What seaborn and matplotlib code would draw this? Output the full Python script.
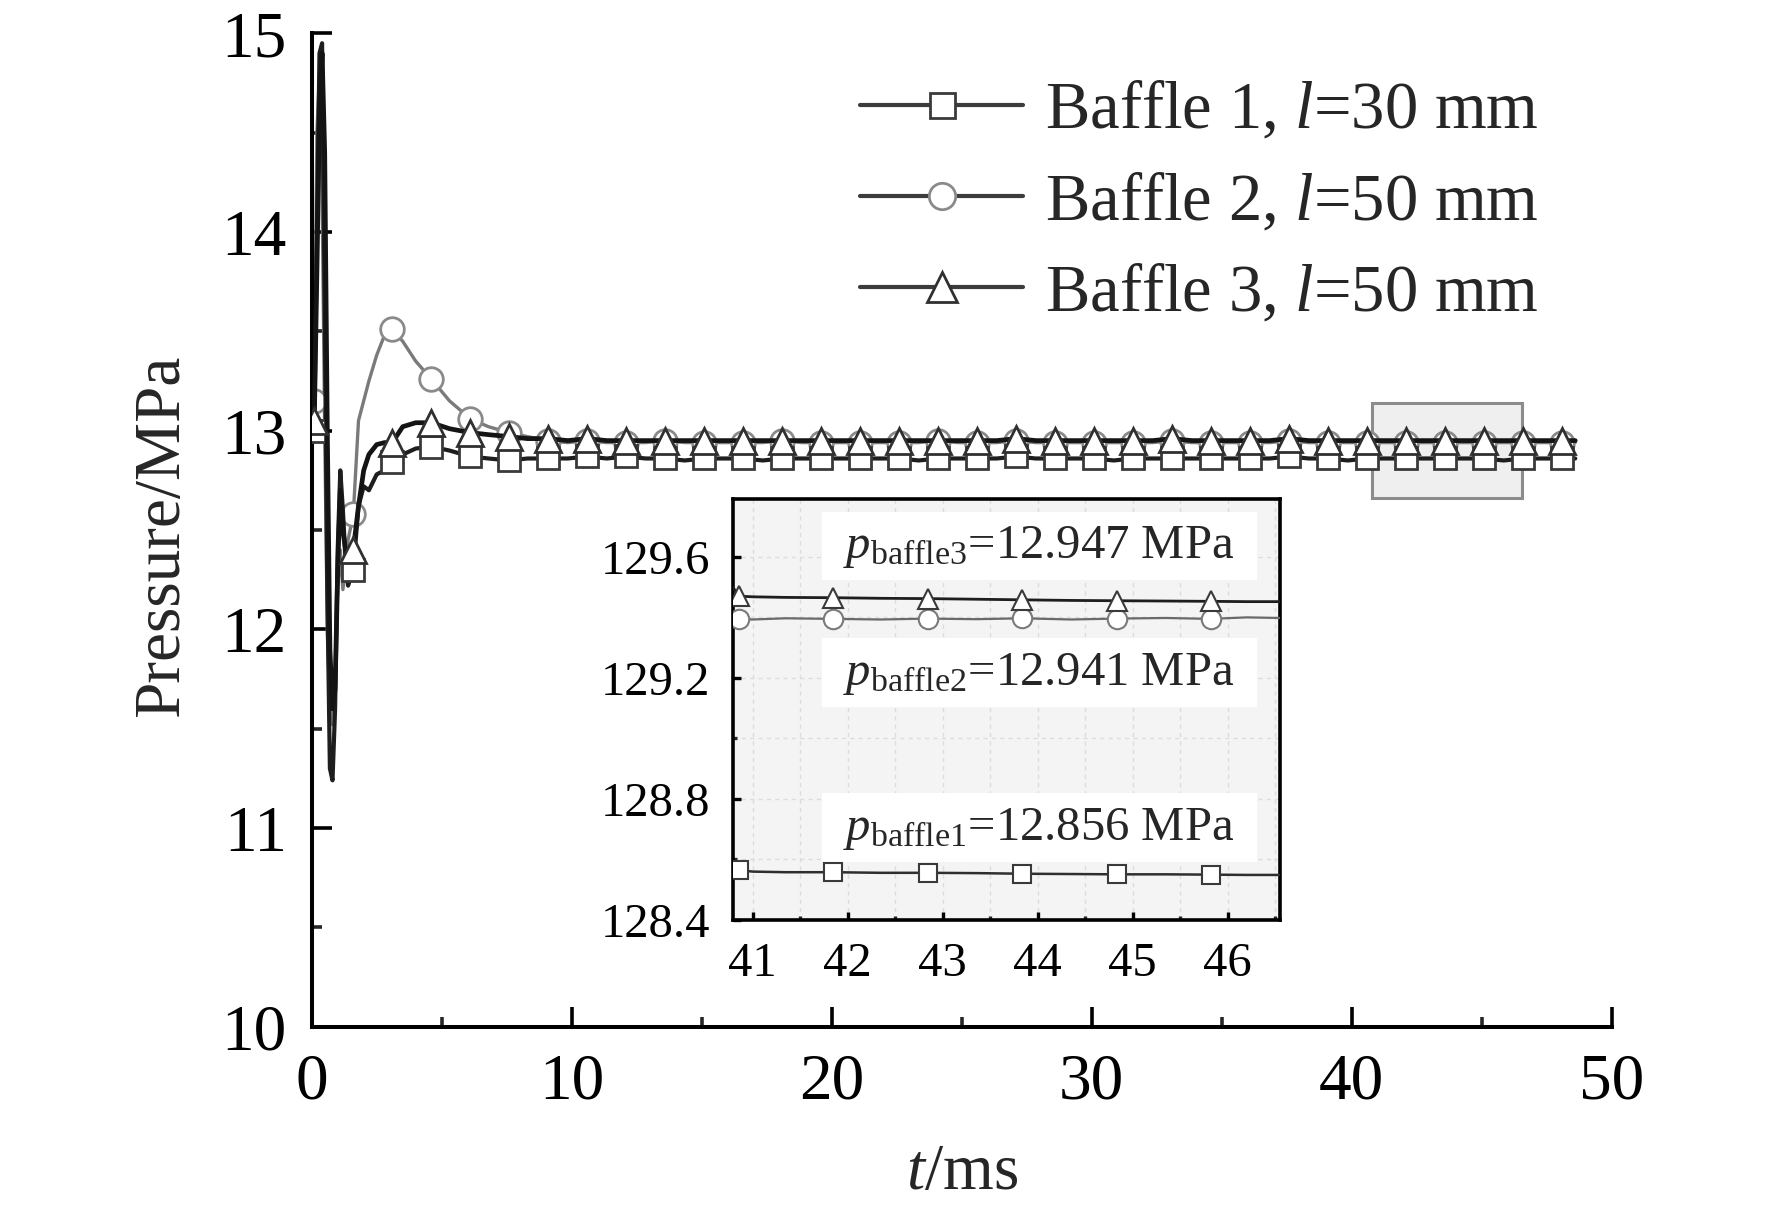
import numpy as np
import pandas as pd
import matplotlib
matplotlib.use("Agg")
import matplotlib.pyplot as plt
from matplotlib.patches import Rectangle
from matplotlib.ticker import MultipleLocator
from matplotlib.lines import Line2D
import seaborn as sns

# ---------------- data ----------------
t_head = [0.0, 0.1, 0.2, 0.3, 0.4, 0.5, 0.6, 0.7, 0.8, 0.9, 1.0, 1.1, 1.2, 1.3, 1.4,
          1.6, 1.8, 2.0, 2.2, 2.5, 2.8, 3.1, 3.5, 4.0, 4.6, 5.3, 6.1, 6.8, 7.6, 8.3, 9.1]
t_tail = [9.85, 10.6, 11.35, 12.1, 12.85, 13.6, 14.35, 15.1, 15.85, 16.6, 17.35, 18.1,
          18.85, 19.6, 20.35, 21.1, 21.85, 22.6, 23.35, 24.1, 24.85, 25.6, 26.35, 27.1,
          27.85, 28.6, 29.35, 30.1, 30.85, 31.6, 32.35, 33.1, 33.85, 34.6, 35.35, 36.1,
          36.85, 37.6, 38.35, 39.1, 39.85, 40.6, 41.35, 42.1, 42.85, 43.6, 44.35, 45.1,
          45.85, 46.6, 47.35, 48.1, 48.6]

b1_head = [13.00, 13.00, 14.00, 14.90, 14.95, 13.60, 12.20, 11.30, 11.24, 11.60, 12.40,
           12.80, 12.60, 12.35, 12.22, 12.30, 12.62, 12.72, 12.70, 12.78, 12.80, 12.84,
           12.88, 12.91, 12.92, 12.90, 12.87, 12.86, 12.85, 12.86, 12.86]
b1_tail = [12.86, 12.87, 12.86, 12.87, 12.86, 12.86, 12.85, 12.86, 12.86, 12.86, 12.85,
           12.86, 12.86, 12.86, 12.86, 12.86, 12.86, 12.86, 12.85, 12.86, 12.86, 12.86,
           12.86, 12.87, 12.86, 12.86, 12.86, 12.86, 12.85, 12.86, 12.86, 12.86, 12.86,
           12.86, 12.86, 12.86, 12.86, 12.87, 12.86, 12.86, 12.85, 12.86, 12.86, 12.86,
           12.86, 12.86, 12.86, 12.86, 12.85, 12.86, 12.86, 12.86, 12.86]

b2_head = [13.20, 13.15, 14.50, 14.80, 14.20, 13.00, 12.00, 11.60, 11.52, 11.70, 12.20,
           12.40, 12.20, 12.30, 12.45, 12.58, 13.05, 13.15, 13.25, 13.38, 13.48, 13.51,
           13.45, 13.35, 13.26, 13.15, 13.06, 13.02, 12.99, 12.97, 12.95]
b2_tail = [12.94, 12.95, 12.94, 12.94, 12.94, 12.95, 12.94, 12.94, 12.94, 12.94, 12.94,
           12.95, 12.94, 12.94, 12.94, 12.94, 12.94, 12.94, 12.94, 12.95, 12.94, 12.94,
           12.94, 12.95, 12.94, 12.94, 12.94, 12.94, 12.94, 12.94, 12.94, 12.95, 12.94,
           12.94, 12.94, 12.94, 12.94, 12.95, 12.94, 12.94, 12.94, 12.94, 12.94, 12.94,
           12.94, 12.94, 12.94, 12.94, 12.94, 12.94, 12.94, 12.94, 12.94]

b3_head = [13.10, 13.05, 13.80, 14.60, 14.90, 14.40, 13.00, 11.90, 11.60, 11.70, 12.30,
           12.70, 12.50, 12.40, 12.38, 12.40, 12.62, 12.80, 12.88, 12.93, 12.94, 12.94,
           13.02, 13.04, 13.04, 13.01, 12.99, 12.98, 12.97, 12.96, 12.96]
b3_tail = [12.95, 12.96, 12.95, 12.95, 12.95, 12.95, 12.95, 12.95, 12.95, 12.95, 12.95,
           12.95, 12.95, 12.95, 12.95, 12.95, 12.95, 12.95, 12.95, 12.95, 12.95, 12.95,
           12.95, 12.96, 12.95, 12.95, 12.95, 12.95, 12.95, 12.95, 12.95, 12.96, 12.95,
           12.95, 12.95, 12.95, 12.95, 12.96, 12.95, 12.95, 12.95, 12.95, 12.95, 12.95,
           12.95, 12.95, 12.95, 12.95, 12.95, 12.95, 12.95, 12.95, 12.95]

# inset (zoomed steady state)
in_t = [40.79, 40.86, 41.0, 41.35, 41.85, 42.35, 42.85, 43.35, 43.84, 44.35, 44.83,
        45.35, 45.82, 46.2, 46.55]
in_b1 = [128.575, 128.565, 128.560, 128.558, 128.558, 128.556, 128.556, 128.555,
         128.553, 128.552, 128.551, 128.551, 128.550, 128.549, 128.549]
in_b2 = [129.400, 129.395, 129.393, 129.397, 129.395, 129.393, 129.396, 129.394,
         129.397, 129.393, 129.396, 129.398, 129.395, 129.400, 129.398]
in_b3 = [129.500, 129.470, 129.468, 129.466, 129.465, 129.463, 129.462, 129.460,
         129.458, 129.456, 129.455, 129.454, 129.453, 129.452, 129.452]
in_marker_t = [40.86, 41.85, 42.85, 43.84, 44.83, 45.82]

labels = ["Baffle 1, $l$=30 mm", "Baffle 2, $l$=50 mm", "Baffle 3, $l$=50 mm"]
annot = ["$p_{\\mathrm{baffle3}}$=12.947 MPa",
         "$p_{\\mathrm{baffle2}}$=12.941 MPa",
         "$p_{\\mathrm{baffle1}}$=12.856 MPa"]
zoom_y = (12.66, 13.14)

# ---------------- style ----------------
sns.set_style("ticks")
plt.rcParams["font.family"] = ["Liberation Serif", "DejaVu Serif"]
plt.rcParams["mathtext.fontset"] = "custom"
plt.rcParams["mathtext.rm"] = "Liberation Serif"
plt.rcParams["mathtext.it"] = "Liberation Serif:italic"
plt.rcParams["mathtext.bf"] = "Liberation Serif:bold"

t_all = t_head + t_tail
df = pd.DataFrame({"t": t_all, "b1": b1_head + b1_tail,
                   "b2": b2_head + b2_tail, "b3": b3_head + b3_tail})
mk_idx = [i for i, v in enumerate(t_all)
          if abs((v - 0.1) / 1.5 - round((v - 0.1) / 1.5)) < 1e-6]

fig = plt.figure(figsize=(17.72, 12.12), dpi=100)
ax = fig.add_axes([0.1759, 0.1529, 0.7336, 0.8196])

styles = {
    "b1": dict(color="#1e1e1e", lw=3.0, marker="s", ms=16, mfc="white", mec="#3a3a3a", mew=2.0),
    "b2": dict(color="#7a7a7a", lw=2.4, marker="o", ms=17, mfc="white", mec="#8a8a8a", mew=2.0),
    "b3": dict(color="#141414", lw=3.4, marker="^", ms=19, mfc="white", mec="#303030", mew=2.0),
}

# zoom-region rectangle (behind curves)
ax.add_patch(Rectangle((in_t[0], zoom_y[0]), in_t[-1] - in_t[0], zoom_y[1] - zoom_y[0],
                       facecolor="#efefef", edgecolor="#8c8c8c", lw=2.2, zorder=1))

for key, z in (("b2", 2), ("b1", 3), ("b3", 4)):
    st = styles[key]
    sns.lineplot(data=df, x="t", y=key, ax=ax, estimator=None, sort=False,
                 color=st["color"], lw=st["lw"], marker=st["marker"], markersize=st["ms"],
                 markerfacecolor=st["mfc"], markeredgecolor=st["mec"],
                 markeredgewidth=st["mew"], markevery=mk_idx, zorder=z)

ax.set_xlim(0, 50)
ax.set_ylim(10, 15)
ax.xaxis.set_major_locator(MultipleLocator(10))
ax.xaxis.set_minor_locator(MultipleLocator(5))
ax.yaxis.set_major_locator(MultipleLocator(1))
ax.yaxis.set_minor_locator(MultipleLocator(0.5))
for s in ("top", "right"):
    ax.spines[s].set_visible(False)
for s in ("left", "bottom"):
    ax.spines[s].set_linewidth(2.9)
    ax.spines[s].set_color("black")
ax.tick_params(which="major", direction="in", length=14.5, width=2.6, labelsize=47,
               colors="black")
ax.tick_params(which="minor", direction="in", length=7.5, width=2.6)
ax.tick_params(axis="y", which="major", pad=18)
ax.tick_params(axis="x", which="major", pad=19)
ax.set_xlabel("$t$/ms", fontsize=47)
ax.set_ylabel("Pressure/MPa", fontsize=47)
ax.xaxis.set_label_coords(0.50, -0.118)
ax.yaxis.set_label_coords(-0.092, 0.494)

handles = []
for key in ("b1", "b2", "b3"):
    st = styles[key]
    handles.append(Line2D([], [], color="#3c3c3c", lw=3.0, marker=st["marker"],
                          markersize=st["ms"] + 2, markerfacecolor="white",
                          markeredgecolor=st["mec"], markeredgewidth=2.0))
fig.legend(handles, labels, loc="upper left", bbox_to_anchor=(0.4853, 0.934),
           frameon=False, fontsize=48, handlelength=2.45, handletextpad=0.32,
           labelspacing=0.44, borderpad=0, borderaxespad=0)

# ---------------- inset ----------------
axin = fig.add_axes([0.4135, 0.2409, 0.3088, 0.3471])
axin.set_facecolor("#f4f4f4")
din = pd.DataFrame({"t": in_t, "b1": in_b1, "b2": in_b2, "b3": in_b3})
in_mk = [i for i, v in enumerate(in_t) if v in in_marker_t]
in_styles = {
    "b1": dict(color="#2e2e2e", lw=1.8, marker="s", ms=13, mec="#3a3a3a"),
    "b2": dict(color="#6a6a6a", lw=1.6, marker="o", ms=14, mec="#7a7a7a"),
    "b3": dict(color="#1e1e1e", lw=2.0, marker="^", ms=15, mec="#3a3a3a"),
}
for key in ("b1", "b2", "b3"):
    st = in_styles[key]
    sns.lineplot(data=din, x="t", y=key, ax=axin, estimator=None, sort=False,
                 color=st["color"], lw=st["lw"], marker=st["marker"], markersize=st["ms"],
                 markerfacecolor="white", markeredgecolor=st["mec"], markeredgewidth=1.5,
                 markevery=in_mk, zorder=4)
axin.set_xlim(in_t[0], in_t[-1])
axin.set_ylim(128.4, 129.79)
axin.xaxis.set_major_locator(MultipleLocator(1))
axin.xaxis.set_minor_locator(MultipleLocator(0.5))
axin.yaxis.set_major_locator(MultipleLocator(0.4))
axin.yaxis.set_minor_locator(MultipleLocator(0.2))
axin.grid(which="both", color="#dcdcdc", lw=1.0, ls=(0, (3, 3)))
axin.set_axisbelow(True)
for s in axin.spines.values():
    s.set_linewidth(2.6)
    s.set_color("black")
axin.tick_params(which="major", direction="in", length=6, width=2.4, labelsize=35,
                 colors="black", pad=16)
axin.tick_params(which="minor", direction="in", length=3, width=2.4)
axin.set_xlabel("")
axin.set_ylabel("")

box_y = [(0.808, 0.970), (0.506, 0.670), (0.138, 0.302)]
base_y = [0.860, 0.5586, 0.190]
for (y0, y1), yb, txt in zip(box_y, base_y, annot):
    axin.add_patch(Rectangle((0.163, y0), 0.795, y1 - y0, transform=axin.transAxes,
                             facecolor="white", edgecolor="none", zorder=2))
    axin.text(0.2015, yb, txt, transform=axin.transAxes, fontsize=35, va="baseline",
              ha="left", zorder=5)

fig.savefig("out.png", dpi=100)
